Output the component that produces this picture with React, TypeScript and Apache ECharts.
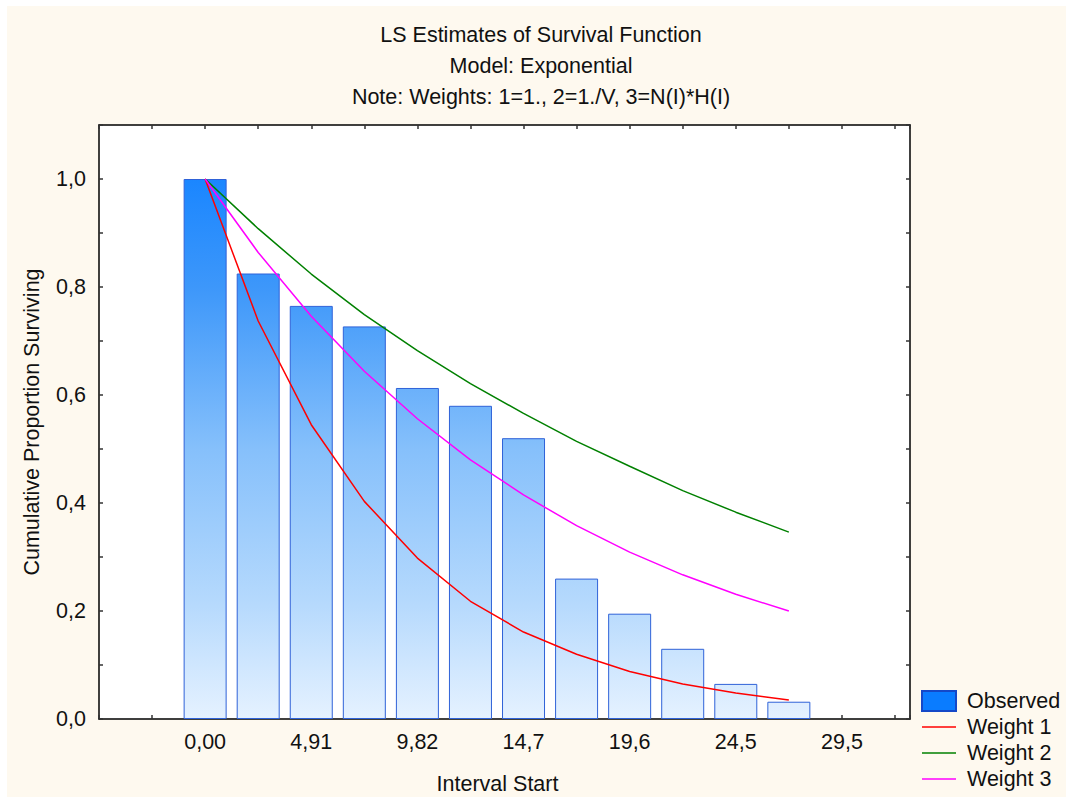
import React, { useEffect, useRef } from "react";
import * as echarts from "echarts";

// Interval start times and observed cumulative survival proportions
const intervalStarts = [0, 2.455, 4.91, 7.365, 9.82, 12.275, 14.73, 17.185, 19.64, 22.095, 24.55, 27.005];
const observed = [1.0, 0.825, 0.765, 0.727, 0.613, 0.58, 0.52, 0.26, 0.195, 0.13, 0.065, 0.032];

// Fitted exponential survival curves for the three weighting schemes
const weight1 = [1.0, 0.737, 0.545, 0.403, 0.298, 0.218, 0.161, 0.12, 0.088, 0.065, 0.048, 0.035];
const weight2 = [1.0, 0.908, 0.824, 0.749, 0.682, 0.621, 0.566, 0.514, 0.468, 0.423, 0.383, 0.346];
const weight3 = [1.0, 0.864, 0.746, 0.644, 0.556, 0.48, 0.415, 0.358, 0.309, 0.267, 0.231, 0.2];

const xTickLabels = ["0,00", "4,91", "9,82", "14,7", "19,6", "24,5", "29,5"];

const titleLines = [
  "LS Estimates of Survival Function",
  "Model: Exponential",
  "Note: Weights: 1=1., 2=1./V, 3=N(I)*H(I)",
];

const FONT = "'Liberation Sans', Arial, sans-serif";
const FS = 21.5;
const X_STEP = 2.455;
const LINE_ICON = "path://M0,0H34V1.5H0Z";

const pairs = (ys: number[]) => ys.map((y, i) => [intervalStarts[i], y]);

export default function App() {
  const ref = useRef<HTMLDivElement>(null);

  useEffect(() => {
    document.body.style.margin = "0";
    const chart = echarts.init(ref.current!, undefined, { renderer: "svg" });

    const barFill = new echarts.graphic.LinearGradient(
      0, 179, 0, 721,
      [
        { offset: 0, color: "#1A86FF" },
        { offset: 0.2, color: "#3D97FA" },
        { offset: 0.5, color: "#86C0FB" },
        { offset: 0.78, color: "#B5D9FD" },
        { offset: 1, color: "#E6F2FF" },
      ],
      true
    );

    const xLabel = (v: number) => {
      const idx = Math.round(v / X_STEP);
      if (idx < 0 || idx % 2 !== 0) return "";
      return xTickLabels[idx / 2] ?? "";
    };
    const yLabel = (v: number) => {
      const t = Math.round(v * 10);
      if (t % 2 !== 0) return "";
      return (t / 10).toFixed(1).replace(".", ",");
    };

    const xCommon = {
      type: "value" as const,
      min: -4.91,
      max: 32.61,
      interval: X_STEP,
      splitLine: { show: false },
      axisLine: { show: true, onZero: false, lineStyle: { color: "#000", width: 1.5 } },
      axisTick: { show: true, inside: true, length: 4, lineStyle: { color: "#333", width: 1.5 } },
    };
    const yCommon = {
      type: "value" as const,
      min: 0,
      max: 1.1,
      interval: 0.1,
      splitLine: { show: false },
      axisLine: { show: true, onZero: false, lineStyle: { color: "#000", width: 1.5 } },
      axisTick: { show: true, inside: true, length: 4, lineStyle: { color: "#333", width: 1.5 } },
    };

    chart.setOption({
      animation: false,
      backgroundColor: "#ffffff",
      textStyle: { fontFamily: FONT },
      graphic: [
        {
          type: "rect",
          z: -10,
          silent: true,
          shape: { x: 7, y: 6, width: 1059, height: 791 },
          style: { fill: "#FEF9EF" },
        },
        ...titleLines.map((t, i) => ({
          type: "text",
          x: 541,
          y: 35 + i * 31,
          style: {
            text: t,
            fill: "#111",
            font: `${FS}px ${FONT}`,
            textAlign: "center",
            textVerticalAlign: "middle",
          },
        })),
      ],
      grid: {
        left: 99,
        top: 125,
        width: 811,
        height: 596,
        show: true,
        backgroundColor: "#ffffff",
        borderWidth: 0,
      },
      legend: {
        orient: "vertical",
        left: 921,
        top: 690,
        padding: 0,
        itemWidth: 34,
        itemHeight: 20,
        itemGap: 4,
        textStyle: {
          fontSize: FS,
          lineHeight: 22,
          color: "#111",
          fontFamily: FONT,
          padding: [0, 0, 0, 6],
        },
        data: [
          {
            name: "Observed",
            icon: "rect",
            itemStyle: { color: "#0A7CFF", borderColor: "#1448C8", borderWidth: 2 },
          },
          { name: "Weight 1", icon: LINE_ICON, itemStyle: { color: "#FF0000" } },
          { name: "Weight 2", icon: LINE_ICON, itemStyle: { color: "#008000" } },
          { name: "Weight 3", icon: LINE_ICON, itemStyle: { color: "#FF00FF" } },
        ],
      },
      xAxis: [
        {
          ...xCommon,
          position: "bottom",
          name: "Interval Start",
          nameLocation: "middle",
          nameGap: 54,
          nameTextStyle: { fontSize: FS, color: "#111", padding: [0, 14, 0, 0] },
          axisLabel: {
            formatter: xLabel,
            fontSize: FS,
            color: "#111",
            margin: 12,
            showMinLabel: true,
            showMaxLabel: true,
          },
        },
        {
          ...xCommon,
          position: "top",
          axisLabel: { show: false },
        },
      ],
      yAxis: [
        {
          ...yCommon,
          position: "left",
          name: "Cumulative Proportion Surviving",
          nameLocation: "middle",
          nameGap: 56,
          nameTextStyle: { fontSize: FS, color: "#111" },
          axisLabel: { formatter: yLabel, fontSize: FS, color: "#111", margin: 13 },
        },
        {
          ...yCommon,
          position: "right",
          axisLabel: { show: false },
        },
      ],
      series: [
        {
          name: "Observed",
          type: "bar",
          xAxisIndex: 0,
          yAxisIndex: 0,
          barWidth: 43,
          data: pairs(observed),
          itemStyle: { color: barFill, borderColor: "#2F62D8", borderWidth: 1 },
          z: 2,
        },
        {
          name: "Weight 1",
          type: "line",
          data: pairs(weight1),
          symbol: "none",
          lineStyle: { color: "#FF0000", width: 1.5 },
          itemStyle: { color: "#FF0000" },
          z: 3,
        },
        {
          name: "Weight 2",
          type: "line",
          data: pairs(weight2),
          symbol: "none",
          lineStyle: { color: "#008000", width: 1.5 },
          itemStyle: { color: "#008000" },
          z: 3,
        },
        {
          name: "Weight 3",
          type: "line",
          data: pairs(weight3),
          symbol: "none",
          lineStyle: { color: "#FF00FF", width: 1.5 },
          itemStyle: { color: "#FF00FF" },
          z: 3,
        },
      ],
    });

    return () => chart.dispose();
  }, []);

  return <div ref={ref} style={{ width: 1066, height: 800 }} />;
}
